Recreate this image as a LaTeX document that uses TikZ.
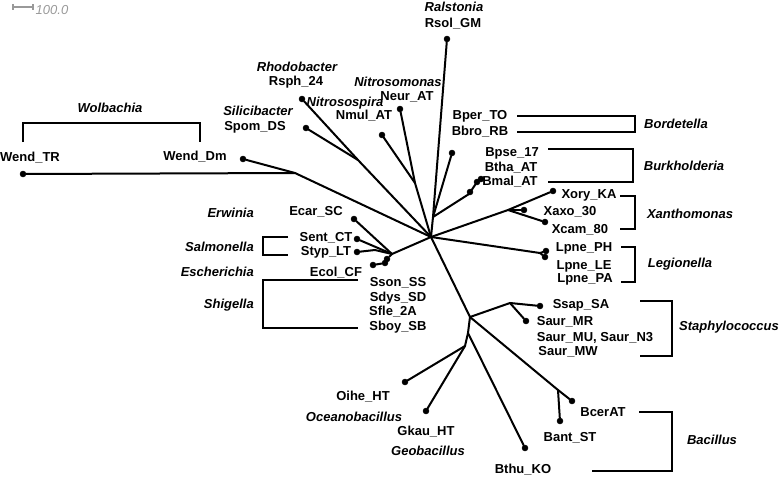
\documentclass[tikz,border=0pt]{standalone}
\usepackage{fontspec}
\setmainfont{Liberation Sans}
\begin{document}
\begin{tikzpicture}[x=1pt,y=-1pt]
\tikzstyle{branch} 	= [line width = 2pt, color = black, line cap = round] % tree branch
\tikzstyle{brk} 	= [line width = 2pt, color = black] % clade bracket
\tikzstyle{leaf} 	= [draw, shape = circle, inner sep = 0em, minimum size = 6pt, fill = black] % leaf dot
\tikzstyle{strain} 	= [inner sep = 0pt, font = \bfseries\fontsize{13}{13}\selectfont] % strain label
\tikzstyle{genus} 	= [inner sep = 0pt, font = \bfseries\itshape\fontsize{13}{13}\selectfont] % genus label
\tikzstyle{scalebar} 	= [line width = 1.1pt, color = gray!80] % scale bar

\useasboundingbox (0,0) rectangle (780,477);

% scale bar
\coordinate(sbL) at (13,7);
\coordinate(sbR) at (33,7);
\draw[scalebar] (sbL) -- (sbR) (sbL)++(0,-3) -- ++(0,6) (sbR)++(0,-3) -- ++(0,6);
\node(sbT)[inner sep = 0pt, color = gray!80, font = \itshape\fontsize{13}{13}\selectfont] at (52,10){100.0};

% internal branch points
\coordinate(C) at (431,237);
\coordinate(W) at (295,173);
\coordinate(R) at (358,160);
\coordinate(N) at (415,183);
\coordinate(B) at (433,217);
\coordinate(Bk) at (469,194);
\coordinate(X) at (508,210);
\coordinate(Lg) at (540,253);
\coordinate(E) at (392,254);
\coordinate(Es) at (375,250);
\coordinate(S) at (470,317);
\coordinate(St) at (510,303);
\coordinate(Bc) at (558,390);
\coordinate(L1) at (468,333);
\coordinate(L2) at (465,346);

% leaves
\node(dTR)[leaf] at (23,174){};
\node(dDm)[leaf] at (243,159){};
\node(dSpom)[leaf] at (306,128){};
\node(dRsph)[leaf] at (302,99){};
\node(dNmul)[leaf] at (382,135){};
\node(dNeur)[leaf] at (400,109){};
\node(dRsol)[leaf] at (447,39){};
\node(dBpse)[leaf] at (452,153){};
\node(dBk)[leaf] at (470,192){};
\node(dBtha)[leaf] at (477,182){};
\node(dBmal)[leaf] at (481,179){};
\node(dXory)[leaf] at (553,191){};
\node(dXaxo)[leaf] at (524,210){};
\node(dXcam)[leaf] at (545,222){};
\node(dLpne1)[leaf] at (546,251){};
\node(dLpne2)[leaf] at (545,257){};
\node(dEcar)[leaf] at (354,219){};
\node(dSent)[leaf] at (357,239){};
\node(dStyp)[leaf] at (357,252){};
\node(dE1)[leaf] at (387,259){};
\node(dE2)[leaf] at (385,263){};
\node(dEcol)[leaf] at (373,265){};
\node(dSsap)[leaf] at (540,306){};
\node(dSaur)[leaf] at (526,321){};
\node(dBcer)[leaf] at (572,401){};
\node(dBant)[leaf] at (560,421){};
\node(dBthu)[leaf] at (525,448){};
\node(dOihe)[leaf] at (405,382){};
\node(dGkau)[leaf] at (426,411){};

% branches
\draw[branch] (dTR) -- (W) -- (C);
\draw[branch] (dDm) -- (W);
\draw[branch] (dRsph) -- (R) -- (C);
\draw[branch] (dSpom) -- (R);
\draw[branch] (dNmul) -- (N) -- (C);
\draw[branch] (dNeur) -- (N);
\draw[branch] (dRsol) -- (B) -- (C);
\draw[branch] (dBpse) -- (B);
\draw[branch] (B) -- (Bk) -- (dBtha) -- (dBmal);
\draw[branch] (C) -- (X) -- (dXory);
\draw[branch] (X) -- (dXaxo);
\draw[branch] (X) -- (dXcam);
\draw[branch] (C) -- (Lg) -- (dLpne1);
\draw[branch] (Lg) -- (dLpne2);
\draw[branch] (C) -- (E) -- (dEcar);
\draw[branch] (E) -- (dSent);
\draw[branch] (E) -- (Es) -- (dStyp);
\draw[branch] (E) -- (dE1);
\draw[branch] (dE2) -- (dEcol);
\draw[branch] (C) -- (S) -- (St) -- (dSsap);
\draw[branch] (St) -- (dSaur);
\draw[branch] (S) -- (Bc) -- (dBcer);
\draw[branch] (Bc) -- (dBant);
\draw[branch] (S) -- (L1) -- (dBthu);
\draw[branch] (L1) -- (L2) -- (dGkau);
\draw[branch] (L2) -- (dOihe);

% strain labels
\node(Rsol)[strain] at (453,24){Rsol\_GM};
\node(Rsph)[strain] at (296,82){Rsph\_24};
\node(Neur)[strain] at (407,97){Neur\_AT};
\node(Nmul)[strain] at (364,116){Nmul\_AT};
\node(Spom)[strain] at (255,127){Spom\_DS};
\node(WendTR)[strain] at (30,158){Wend\_TR};
\node(WendDm)[strain] at (195,157){Wend\_Dm};
\node(Bper)[strain] at (480,116){Bper\_TO};
\node(Bbro)[strain] at (480,132){Bbro\_RB};
\node(Bpse)[strain] at (512,153){Bpse\_17};
\node(Btha)[strain] at (511,168){Btha\_AT};
\node(Bmal)[strain] at (510,182){Bmal\_AT};
\node(Xory)[strain] at (589,195){Xory\_KA};
\node(Xaxo)[strain] at (570,212){Xaxo\_30};
\node(Xcam)[strain] at (580,230){Xcam\_80};
\node(LpPH)[strain] at (584,248){Lpne\_PH};
\node(LpLE)[strain] at (584,266){Lpne\_LE};
\node(LpPA)[strain] at (585,279){Lpne\_PA};
\node(Ssap)[strain] at (581,305){Ssap\_SA};
\node(SaMR)[strain] at (565,322){Saur\_MR};
\node(SaMU)[strain] at (595,338){Saur\_MU, Saur\_N3};
\node(SaMW)[strain] at (568,352){Saur\_MW};
\node(Bcer)[strain] at (603,412){BcerAT};
\node(Bant)[strain] at (570,438){Bant\_ST};
\node(Bthu)[strain] at (523,470){Bthu\_KO};
\node(Oihe)[strain] at (363,397){Oihe\_HT};
\node(Gkau)[strain] at (426,432){Gkau\_HT};
\node(Ecar)[strain] at (316,212){Ecar\_SC};
\node(Sent)[strain] at (326,238){Sent\_CT};
\node(Styp)[strain] at (326,252){Styp\_LT};
\node(Ecol)[strain] at (336,273){Ecol\_CF};
\node(Sson)[strain] at (398,283){Sson\_SS};
\node(Sdys)[strain] at (398,298){Sdys\_SD};
\node(Sfle)[strain] at (393,312){Sfle\_2A};
\node(Sboy)[strain] at (398,327){Sboy\_SB};

% genus labels
\node(Ral)[genus] at (454,7){Ralstonia};
\node(Rho)[genus] at (297,67){Rhodobacter};
\node(Nsp)[genus] at (345,103){Nitrosospira};
\node(Nsm)[genus] at (398,82){Nitrosomonas};
\node(Sil)[genus] at (258,111){Silicibacter};
\node(Wol)[genus] at (110,108){Wolbachia};
\node(Bor)[genus] at (676,124){Bordetella};
\node(Bur)[genus] at (684,166){Burkholderia};
\node(Xan)[genus] at (690,214){Xanthomonas};
\node(Leg)[genus] at (680,264){Legionella};
\node(Sta)[genus] at (729,327){Staphylococcus};
\node(Bac)[genus] at (712,440){Bacillus};
\node(Oce)[genus] at (354,417){Oceanobacillus};
\node(Geo)[genus] at (428,451){Geobacillus};
\node(Erw)[genus, anchor = east] at (254,213){Erwinia};
\node(Sal)[genus, anchor = east] at (254,247){Salmonella};
\node(Esc)[genus, anchor = east] at (254,272){Escherichia};
\node(Shi)[genus, anchor = east] at (254,305){Shigella};

% clade brackets
\draw[brk] (23,142) |- (200,123) -- (200,142);
\draw[brk] (517,116) -| (635,132) -- (517,132);
\draw[brk] (548,149) -| (633,182) -- (548,182);
\draw[brk] (620,196) -| (635,229) -- (620,229);
\draw[brk] (621,247) -| (635,282) -- (621,282);
\draw[brk] (640,301) -| (672,356) -- (640,356);
\draw[brk] (639,412) -| (672,471) -- (592,471);
\draw[brk] (288,237) -| (263,255) -- (288,255);
\draw[brk] (358,280) -| (263,328) -- (358,328);
\end{tikzpicture}
\end{document}
